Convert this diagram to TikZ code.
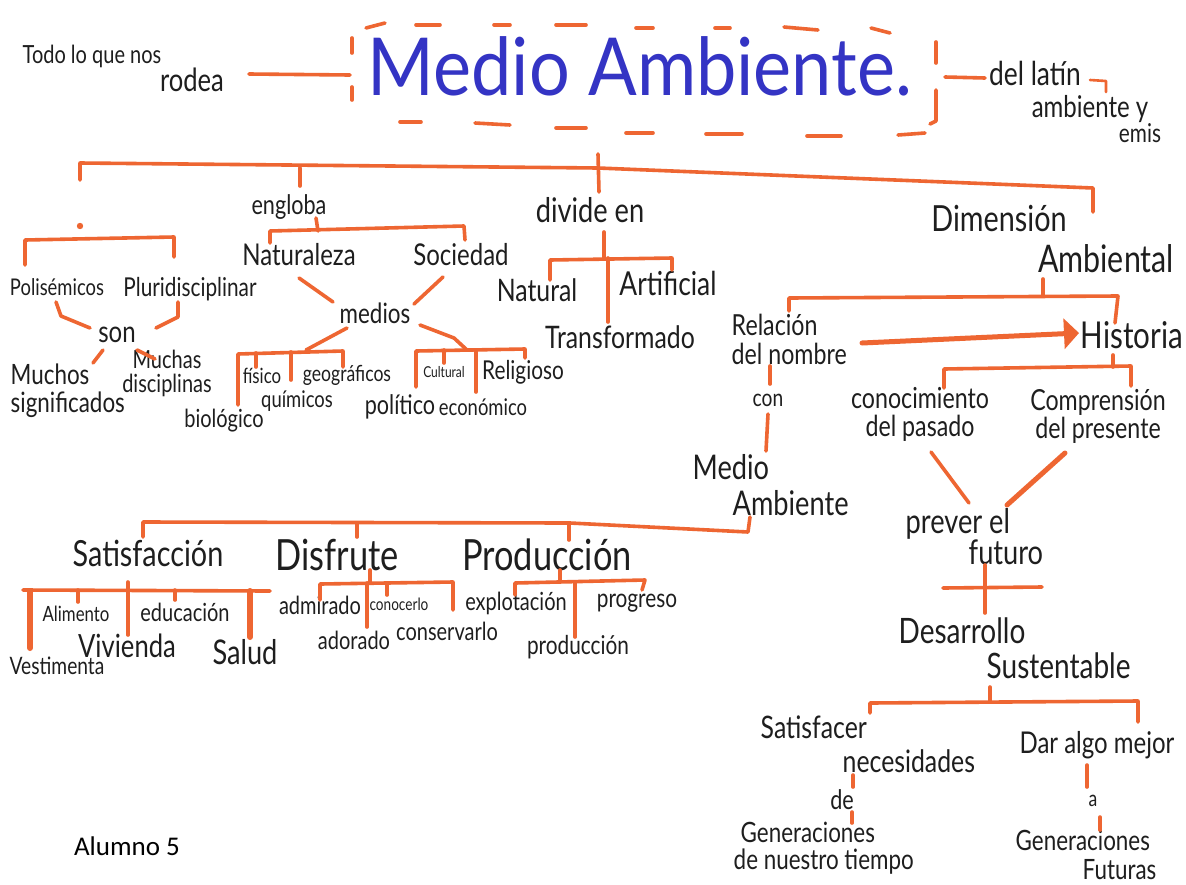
\documentclass[tikz,border=0pt]{standalone}
\usepackage{fontspec}
\setmainfont{Lato}[FakeStretch=0.8]
\newfontfamily\titlefont{Lato}[FakeStretch=0.9]
\newfontfamily\labelfont{Carlito}
\usetikzlibrary{arrows.meta}
\definecolor{marker}{RGB}{238,102,50}
\definecolor{ink}{RGB}{30,30,30}
\definecolor{pen}{RGB}{52,52,196}
\begin{document}
\begin{tikzpicture}[x=1pt,y=-1pt,
  ln/.style={draw=marker,line width=3.6pt,line cap=round,line join=round},
  thick ln/.style={ln,line width=6pt},
  hw/.style={inner sep=0.5pt,text=ink,align=center,font=\fontsize{#1}{#1}\selectfont},
  hwl/.style={hw=#1,align=left,anchor=west},
]
\fill[white] (0,0) rectangle (1186,884);
\useasboundingbox (0,0) rectangle (1186,884);

% ---------- title row ----------
\node[hw=25] (todo) at (92,56) {Todo lo que nos};
\node[hw=32] (rodea) at (192,80) {rodea};
\node[inner sep=0,text=pen,font=\titlefont\fontsize{80}{80}\selectfont] (title) at (640,66) {Medio Ambiente.};
\node[hw=33] (latin) at (1035,73) {del latín};
\node[hw=30] (ambi) at (1090,109) {ambiente y};
\node[hw=26] (emis) at (1140,133) {emis};

% dashed frame round the title
\foreach \xa/\ya/\xb/\yb in {366/28/385/23, 416/25/440/25, 494/25/510/25, 556/25/586/25,
                   636/28/653/28, 715/28/730/28, 784/27/818/30, 871/28/890/33,
                   400/122/421/122, 475/123/510/125, 556/128/586/128, 626/133/653/133,
                   706/134/742/134, 807/136/841/136, 898/135/925/133,
                   352/38/352/53, 352/87/352/100, 936/42/936/63}
  \draw[ln] (\xa,\ya) -- (\xb,\yb);
\draw[ln] (936,90) -- (936,121) -- (930,124);

\draw[ln] (249,74) -- (350,75);
\draw[ln] (945,77) -- (985,78);
\draw[ln,line width=2.6pt] (1090,80) -- (1106,81) -- (1106,92);

% ---------- first level ----------
\node[hw=27] (eng) at (289,207) {engloba};
\node[hw=34] (divide) at (590,210) {divide en};
\node[hw=36] (dim) at (999,219) {Dimensión};
\node[hw=38] (ambt) at (1106,259) {Ambiental};

\draw[ln] (80,180) -- (80,163) -- (598,168) -- (1093,188) -- (1093,212);
\draw[ln] (598,154) -- (599,192);
\draw[ln] (300,168) -- (300,186);
\fill[marker] (80,226) circle (3.2);

% ---------- left branch ----------
\node[hw=23] (pol) at (57,287) {Polisémicos};
\node[hw=26] (plu) at (190,289) {Pluridisciplinar};
\node[hw=30] (son) at (117,335) {son};
\node[hwl=28] (muchos) at (10,391) {Muchos\\significados};
\node[hw=25,font=\fontsize{25}{24}\selectfont] (muchas) at (167,373) {Muchas\\disciplinas};

\draw[ln] (25,265) -- (25,240) -- (174,237) -- (174,257);
\draw[ln] (56,302) -- (61,316) -- (90,328);
\draw[ln] (178,302) -- (178,317) -- (156,328);
\draw[ln] (103,350) -- (93,363);
\draw[ln] (137,350) -- (155,359);

% ---------- engloba ----------
\node[hw=30] (nat) at (299,255) {Naturaleza};
\node[hw=30] (soc) at (461,255) {Sociedad};
\node[hw=28] (medios) at (375,313) {medios};
\node[hw=21] (fisico) at (262,376) {físico};
\node[hw=22] (geog) at (347,375) {geográficos};
\node[hw=23] (quim) at (297,401) {químicos};
\node[hw=25] (bio) at (224,421) {biológico};
\node[hw=15] (cult) at (444,372) {Cultural};
\node[hw=26] (relig) at (523,372) {Religioso};
\node[hw=27] (polit) at (400,407) {político};
\node[hw=23] (econ) at (483,407) {económico};

\draw[ln] (316,218) -- (318,231);
\draw[ln] (270,243) -- (270,231) -- (464,226) -- (465,240);
\draw[ln] (299,278) -- (333,302);
\draw[ln] (443,277) -- (414,304);
\draw[ln] (347,328) -- (306,350);
\draw[ln] (238,405) -- (238,354) -- (343,351) -- (343,367);
\draw[ln] (256,353) -- (256,367);
\draw[ln] (291,352) -- (291,380);
\draw[ln] (420,325) -- (454,338) -- (467,350);
\draw[ln] (416,387) -- (416,351) -- (525,349) -- (525,358);
\draw[ln] (444,350) -- (444,363);
\draw[ln] (476,350) -- (476,392);

% ---------- divide en ----------
\node[hw=31] (natural) at (537,290) {Natural};
\node[hw=33] (artif) at (668,283) {Artificial};
\node[hw=31] (transf) at (620,337) {Transformado};

\draw[ln] (604,232) -- (604,258);
\draw[ln] (550,280) -- (550,260) -- (672,258) -- (672,270);
\draw[ln] (608,258) -- (608,322);

% ---------- dimension ambiental ----------
\node[hwl=29] (rel) at (731,339) {Relación\\del nombre};
\node[hw=37] (hist) at (1132,335) {Historia};
\node[hw=24] (con) at (768,400) {con};
\node[hw=29,font=\fontsize{29}{28}\selectfont] (conoc) at (920,414) {conocimiento\\del pasado};
\node[hw=29,font=\fontsize{29}{28}\selectfont] (compr) at (1098,416) {Comprensión\\del presente};
\node[hwl=34] (ma) at (692,485) {Medio\\[2pt]\hspace*{40pt}Ambiente};

\draw[ln] (1043,279) -- (1043,296);
\draw[ln] (789,311) -- (789,298) -- (1118,296) -- (1115,323);
\draw[ln,line width=5pt,-{Triangle[length=15pt,width=30pt]}] (862,343) -- (1079,333);
\draw[ln] (1113,355) -- (1113,367);
\draw[ln] (944,388) -- (944,369) -- (1131,366) -- (1131,386);
\draw[ln] (770,366) -- (770,384);
\draw[ln] (768,414) -- (766,451);

% ---------- prever el futuro ----------
\node[hwl=34,font=\fontsize{34}{31}\selectfont] (prever) at (905,537) {prever el\\\hspace*{63pt}futuro};
\node[hwl=35] (desa) at (898,648) {Desarrollo\\\hspace*{88pt}Sustentable};

\draw[ln] (931,452) -- (969,503);
\draw[ln,line width=5pt] (1065,453) -- (1007,505);
\draw[ln] (985,565) -- (985,613);
\draw[ln] (943,588) -- (1042,587);

% ---------- medio ambiente ----------
\node[hw=36] (satis) at (148,553) {Satisfacción};
\node[hw=43] (disf) at (337,555) {Disfrute};
\node[hw=43] (prod) at (547,555) {Producción};

\draw[ln] (750,517) -- (748,532) -- (570,523) -- (143,522) -- (143,537);
\draw[ln] (357,523) -- (357,537);
\draw[ln] (569,523) -- (569,540);

\node[hw=21] (alim) at (76,614) {Alimento};
\node[hw=25] (educ) at (185,612) {educación};
\node[hw=32] (viv) at (127,646) {Vivienda};
\node[hw=34] (salud) at (245,652) {Salud};
\node[hw=24] (vest) at (57,666) {Vestimenta};

\draw[ln] (23,590) -- (270,591);
\draw[thick ln] (30,591) -- (30,648);
\draw[ln] (78,590) -- (78,602);
\draw[ln] (128,582) -- (128,635);
\draw[ln] (175,590) -- (175,600);
\draw[thick ln] (250,591) -- (250,637);

\node[hw=25] (admir) at (320,605) {admirado};
\node[hw=17] (conoc2) at (399,604) {conocerlo};
\node[hw=25] (ador) at (354,640) {adorado};
\node[hw=25] (conser) at (447,631) {conservarlo};

\draw[ln] (370,570) -- (370,583);
\draw[ln] (320,600) -- (320,584) -- (453,582) -- (453,610);
\draw[ln] (367,583) -- (367,627);
\draw[ln] (387,583) -- (387,595);

\node[hw=25] (explot) at (516,603) {explotación};
\node[hw=26] (progr) at (637,603) {progreso};
\node[hw=26] (produc) at (578,647) {producción};

\draw[ln] (560,570) -- (560,582);
\draw[ln] (515,595) -- (515,583) -- (645,580) -- (642,590);
\draw[ln] (575,582) -- (575,637);

% ---------- desarrollo sustentable ----------
\node[hwl=31] (satisf) at (760,744) {Satisfacer\\[3pt]\hspace*{82pt}necesidades};
\node[hw=27] (de) at (842,800) {de};
\node[hwl=28,font=\fontsize{28}{27}\selectfont] (gen1) at (733,848) {\hspace*{7pt}Generaciones\\de nuestro tiempo};
\node[hw=30] (dar) at (1097,745) {Dar algo mejor};
\node[hw=22] (a) at (1093,801) {a};
\node[hwl=28] (gen2) at (1015,855) {Generaciones\\[1pt]\hspace*{67pt}Futuras};

\draw[ln] (990,687) -- (990,702);
\draw[ln] (870,713) -- (870,703) -- (1138,701) -- (1138,722);
\draw[ln] (853,775) -- (853,787);
\draw[ln] (852,812) -- (852,823);
\draw[ln] (1087,765) -- (1087,787);
\draw[ln] (1100,817) -- (1100,830);

\node[inner sep=0,font=\labelfont\fontsize{27}{27}\selectfont] (alumno) at (127,846) {Alumno 5};
\end{tikzpicture}
\end{document}
